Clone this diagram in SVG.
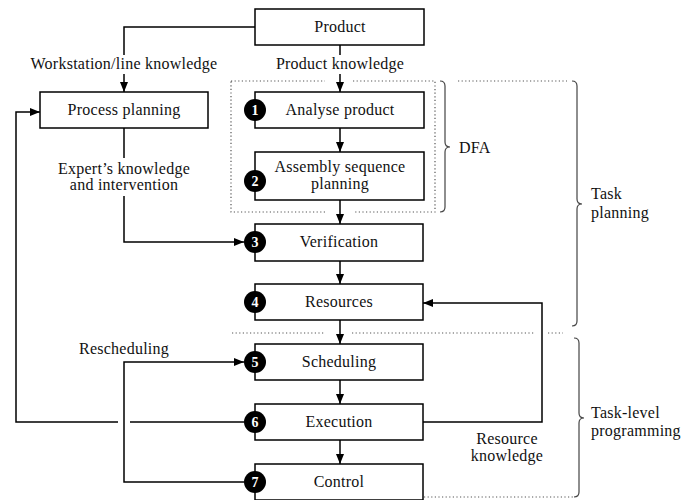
<svg xmlns="http://www.w3.org/2000/svg" width="683" height="500" viewBox="0 0 683 500">
  <style>
    .box { fill: #fff; stroke: #000; stroke-width: 1.5; }
    .lbl { font-family: "Liberation Serif", "Times New Roman", serif; font-size: 16px; fill: #111; }
    .wide { letter-spacing: 0.25px; }
    .mid { text-anchor: middle; }
    .num { font-family: "Liberation Serif", "Times New Roman", serif; font-size: 14px; font-weight: bold; fill: #fff; text-anchor: middle; }
    .dot { fill: #000; }
    .wire { fill: none; stroke: #000; stroke-width: 1.5; }
    .dotted { fill: none; stroke: #555; stroke-width: 1.2; stroke-dasharray: 1.2 2.4; }
    .brace { fill: none; stroke: #444; stroke-width: 1.2; }
  </style>
  <defs>
    <marker id="arr" viewBox="0 0 10 8" refX="10" refY="4" markerWidth="10" markerHeight="8" markerUnits="userSpaceOnUse" orient="auto">
      <path d="M0,0 L10,4 L0,8 Z" fill="#000"/>
    </marker>
  </defs>

  <rect width="683" height="500" fill="#fff"/>

  <!-- grouping frames and separators -->
  <g id="frames">
    <path class="dotted" d="M231,81 H325 M353,81 H435 V212 H353 M325,212 H231 V81"/>
    <path class="dotted" d="M458,81 H567"/>
    <path class="dotted" d="M232,333 H324 M352,333 H535 M548,333 H563"/>
    <path class="dotted" d="M424,497 H573"/>
  </g>

  <!-- braces -->
  <g id="braces">
    <path class="brace" d="M440,81 Q445,81 445,86 L445,142 Q445,147 450,147 Q445,147 445,152 L445,207 Q445,212 440,212"/>
    <path class="brace" d="M572,81 Q577,81 577,86 L577,199 Q577,204 582,204 Q577,204 577,209 L577,321 Q577,326 572,326"/>
    <path class="brace" d="M574,338 Q579,338 579,343 L579,413 Q579,418 584,418 Q579,418 579,423 L579,492 Q579,497 574,497"/>
  </g>

  <!-- connectors -->
  <g id="connectors">
    <path class="wire" d="M340,45 V55"/>
    <path class="wire" d="M340,74 V92" marker-end="url(#arr)"/>
    <path class="wire" d="M255,27 H124 V55"/>
    <path class="wire" d="M124,74 V92" marker-end="url(#arr)"/>
    <path class="wire" d="M340,128 V152" marker-end="url(#arr)"/>
    <path class="wire" d="M340,200 V224" marker-end="url(#arr)"/>
    <path class="wire" d="M340,261 V284" marker-end="url(#arr)"/>
    <path class="wire" d="M340,320 V344" marker-end="url(#arr)"/>
    <path class="wire" d="M340,380 V404" marker-end="url(#arr)"/>
    <path class="wire" d="M340,440 V464" marker-end="url(#arr)"/>
    <path class="wire" d="M124,128 V158"/>
    <path class="wire" d="M124,196 V242 H244" marker-end="url(#arr)"/>
    <path class="wire" d="M244,422 H130"/>
    <path class="wire" d="M118,422 H16 V112 H40" marker-end="url(#arr)"/>
    <path class="wire" d="M244,482 H124 V362 H244" marker-end="url(#arr)"/>
    <path class="wire" d="M423,422 H542 V303 H423" marker-end="url(#arr)"/>
  </g>

  <!-- connector labels -->
  <g id="labels">
    <text class="lbl mid wide" x="124" y="69">Workstation/line knowledge</text>
    <text class="lbl mid wide" x="340" y="69">Product knowledge</text>
    <text class="lbl mid wide" x="124" y="174">Expert’s knowledge</text>
    <text class="lbl mid wide" x="124" y="190">and intervention</text>
    <text class="lbl mid wide" x="124" y="354">Rescheduling</text>
    <text class="lbl mid wide" x="507" y="444">Resource</text>
    <text class="lbl mid wide" x="507" y="461">knowledge</text>
    <text class="lbl wide" x="459" y="153">DFA</text>
    <text class="lbl wide" x="591" y="199">Task</text>
    <text class="lbl wide" x="591" y="218">planning</text>
    <text class="lbl wide" x="591" y="418">Task-level</text>
    <text class="lbl wide" x="591" y="436">programming</text>
  </g>

  <!-- nodes -->
  <g id="product">
    <rect class="box" x="255" y="9" width="169" height="36"/>
    <text class="lbl mid wide" x="340" y="32">Product</text>
  </g>
  <g id="process-planning">
    <rect class="box" x="40" y="92" width="168" height="36"/>
    <text class="lbl mid wide" x="124" y="115">Process planning</text>
  </g>
  <g id="analyse-product">
    <rect class="box" x="255" y="92" width="169" height="36"/>
    <text class="lbl mid wide" x="340" y="115">Analyse product</text>
    <circle class="dot" cx="255" cy="110" r="11"/>
    <text class="num" x="255" y="115">1</text>
  </g>
  <g id="assembly-sequence">
    <rect class="box" x="255" y="152" width="169" height="48"/>
    <text class="lbl mid wide" x="340" y="172">Assembly sequence</text>
    <text class="lbl mid wide" x="340" y="189">planning</text>
    <circle class="dot" cx="255" cy="181" r="11"/>
    <text class="num" x="255" y="186">2</text>
  </g>
  <g id="verification">
    <rect class="box" x="255" y="224" width="168" height="37"/>
    <text class="lbl mid wide" x="339" y="247">Verification</text>
    <circle class="dot" cx="255" cy="242" r="11"/>
    <text class="num" x="255" y="247">3</text>
  </g>
  <g id="resources">
    <rect class="box" x="255" y="284" width="168" height="36"/>
    <text class="lbl mid wide" x="339" y="307">Resources</text>
    <circle class="dot" cx="255" cy="302" r="11"/>
    <text class="num" x="255" y="307">4</text>
  </g>
  <g id="scheduling">
    <rect class="box" x="255" y="344" width="168" height="36"/>
    <text class="lbl mid wide" x="339" y="367">Scheduling</text>
    <circle class="dot" cx="255" cy="362" r="11"/>
    <text class="num" x="255" y="367">5</text>
  </g>
  <g id="execution">
    <rect class="box" x="255" y="404" width="168" height="36"/>
    <text class="lbl mid wide" x="339" y="427">Execution</text>
    <circle class="dot" cx="255" cy="422" r="11"/>
    <text class="num" x="255" y="427">6</text>
  </g>
  <g id="control">
    <rect class="box" x="255" y="464" width="168" height="36"/>
    <text class="lbl mid wide" x="339" y="487">Control</text>
    <circle class="dot" cx="255" cy="482" r="11"/>
    <text class="num" x="255" y="487">7</text>
  </g>
</svg>
